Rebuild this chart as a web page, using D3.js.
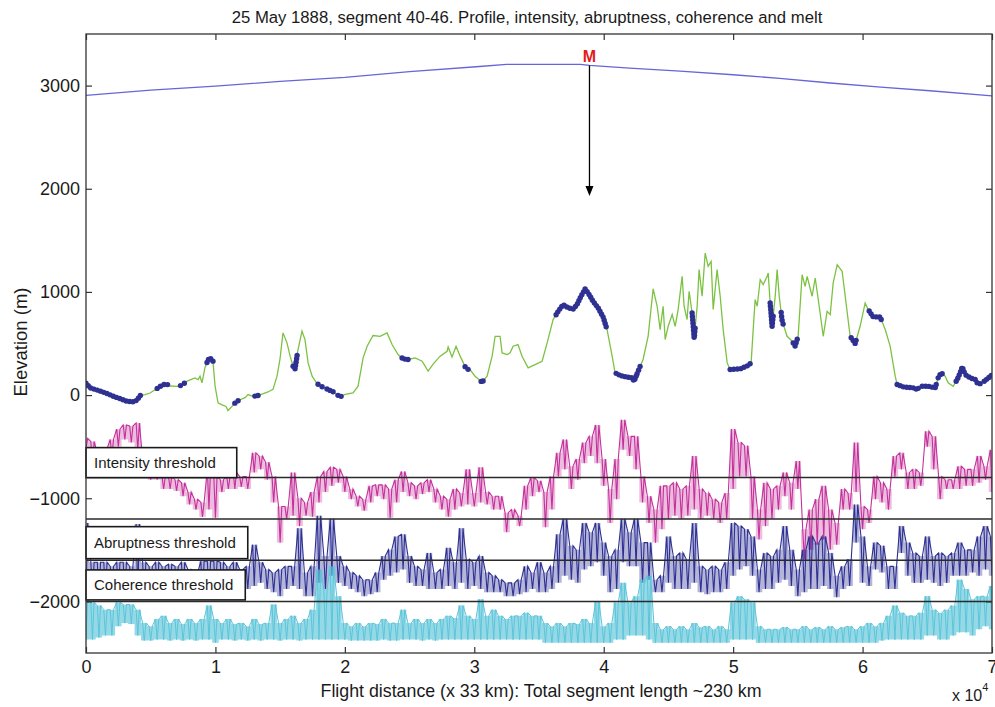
<!DOCTYPE html>
<html>
<head>
<meta charset="utf-8">
<script src="https://cdn.jsdelivr.net/npm/d3@7"></script>
<style>
  body { margin: 0; background: #fff; }
  svg { display: block; }
  text { font-family: "Liberation Sans", Arial, Helvetica, sans-serif; fill: #1a1a1a; }
</style>
</head>
<body>
<svg id="chart" width="995" height="707"></svg>
<script>
// ---------------- data ----------------
// Flight distance in metres (axis shows units of 10^4), elevation in metres.

// Ice surface profile
const profileX = [0, 5000, 10000, 15000, 20000, 25000, 30400, 32500, 38200, 38900, 42000, 45900, 50000, 53600, 57500, 61400, 65200, 70000];
const profileZ = [2905, 2955, 2995, 3040, 3080, 3135, 3185, 3205, 3205, 3195, 3170, 3140, 3105, 3070, 3025, 2985, 2950, 2900];

// Bed profile
const bedX = [0, 310, 700, 1080, 1620, 2090, 2630, 3170, 3630, 3940, 4170, 4560, 4950, 5490, 5870, 6180, 6490, 7110, 7420, 7810,
  8420, 8660, 8810, 8960, 9200, 9430, 9580, 9810, 9970, 10200, 10510, 10820, 10970, 11280, 11590, 11900, 12290, 12520, 12830, 13140,
  13600, 14060, 14450, 14760, 14990, 15220, 15530, 15770, 16000, 16150, 16380, 16690, 16920, 17160, 17470, 17850, 18160, 18700, 19090, 19630,
  20020, 20630, 21020, 21410, 21720, 22180, 22720, 23260, 23650, 24110, 24500, 24880, 25430, 25970, 26430, 26820, 27360, 27900, 27980, 28280,
  28590, 28900, 29370, 29680, 30060, 30600, 30990, 31380, 31610, 31990, 32150, 32540, 32770, 33000, 33380, 33690, 34160, 34700, 35240, 35630,
  36090, 36480, 36860, 37250, 37640, 37940, 38180, 38560, 38800, 39180, 39570, 39950, 40260, 40650, 40880, 41270, 41810, 42190, 42350, 42660,
  43040, 43430, 43820, 44130, 44360, 44590, 44750, 44980, 45290, 45520, 45750, 46060, 46210, 46440, 46600, 46830, 46990, 47220, 47370, 47600,
  47840, 48070, 48300, 48460, 48760, 49000, 49230, 49540, 49770, 50540, 51160, 51390, 51550, 51700, 51860, 52090, 52320, 52630, 52710, 52860,
  53010, 53250, 53400, 53560, 53790, 54170, 54560, 54790, 55020, 55330, 55560, 55720, 56100, 56340, 56650, 56960, 57260, 57500, 57730, 58040,
  58420, 58660, 59040, 59430, 59810, 60200, 60430, 60820, 61360, 61750, 62130, 62520, 62670, 63140, 63910, 64220, 64450, 65070, 65610, 65840,
  66070, 66380, 66610, 67000, 67310, 67540, 67700, 67930, 68320, 68700, 68930, 69240, 69630, 69940];
const bedZ = [115, 70, 55, 40, 15, -10, -35, -60, -65, -50, -5, 5, 20, 64, 95, 110, 88, 85, 96, 135,
  167, 150, 183, 119, 270, 340, 361, 329, 90, -75, -95, -110, -150, -110, -65, -45, -25, 5, -10, -10,
  10, 30, 55, 183, 350, 603, 506, 377, 280, 254, 441, 619, 538, 312, 183, 112, 86, 54, 32, -17,
  6, 22, 86, 361, 474, 577, 570, 603, 490, 393, 351, 345, 361, 329, 232, 300, 377, 425, 467, 370,
  474, 380, 254, 245, 183, 125, 183, 377, 570, 570, 409, 393, 409, 474, 490, 377, 264, 296, 328, 506,
  732, 812, 877, 845, 835, 877, 942, 1029, 990, 909, 845, 758, 635, 377, 216, 190, 174, 167, 135, 232,
  345, 570, 1029, 861, 635, 861, 538, 667, 780, 667, 829, 1151, 861, 732, 1006, 796, 554, 861, 1216, 958,
  1377, 1248, 1296, 829, 1216, 958, 635, 312, 248, 254, 287, 312, 635, 925, 861, 1119, 1071, 1151, 1184, 893,
  667, 958, 1216, 958, 716, 570, 522, 474, 570, 1167, 1054, 1151, 958, 1135, 861, 570, 812, 780, 1087, 1264,
  1200, 958, 570, 500, 667, 893, 829, 758, 758, 635, 474, 183, 103, 80, 70, 54, 86, 86, 70, 167,
  216, 183, 119, 86, 151, 216, 274, 199, 167, 151, 103, 119, 157, 190];

// Stretches of the bed flagged as melt [start, end] in metres
const meltStart = [0, 5500, 7300, 9350, 11500, 13050, 16000, 17930, 18620, 19470, 24420, 29290, 30530, 36320, 40960, 42580, 46830, 49770, 52860, 53710,
  54640, 59120, 60510, 62670, 64140, 64610, 65840, 67230, 68000, 68850, 69400];
const meltEnd = [4200, 6300, 7600, 9810, 11750, 13290, 16310, 18240, 19090, 19710, 24880, 29520, 30680, 40190, 42500, 42810, 47060, 51310, 53090, 53860,
  54950, 59500, 61440, 63910, 64300, 65690, 66150, 67850, 68700, 69080, 69940];

// Radar indicators, sampled every 500 m: lower / upper extent of the trace within each sample
const sampleStep = 500;
const intensityHi = [-420, -450, -560, -520, -430, -330, -290, -300, -270, -620,
  -720, -690, -790, -790, -820, -850, -940, -1010, -1040, -720,
  -790, -820, -790, -750, -790, -790, -560, -590, -650, -790,
  -1080, -1080, -750, -1000, -1040, -940, -790, -740, -700, -720,
  -790, -910, -980, -1010, -880, -870, -870, -910, -820, -740,
  -850, -880, -850, -820, -910, -980, -1010, -910, -950, -720,
  -950, -700, -940, -980, -980, -1140, -1110, -1170, -880, -800,
  -830, -940, -790, -560, -430, -690, -620, -460, -400, -290,
  -620, -910, -620, -240, -400, -400, -790, -980, -1110, -880,
  -880, -850, -910, -880, -590, -910, -950, -1010, -1040, -950,
  -330, -460, -490, -790, -1110, -850, -910, -880, -750, -850,
  -640, -1300, -1110, -1010, -880, -1110, -1240, -910, -950, -460,
  -1080, -1110, -790, -850, -910, -590, -560, -750, -720, -750,
  -350, -400, -790, -820, -820, -690, -720, -720, -590, -690,
  -530];
const intensityLo = [-520, -720, -720, -690, -600, -500, -430, -460, -530, -790,
  -820, -820, -910, -910, -930, -980, -1060, -1110, -1180, -1110,
  -1190, -940, -910, -910, -890, -910, -750, -720, -820, -1040,
  -1430, -1200, -1170, -1270, -1170, -1180, -1040, -940, -880, -850,
  -940, -1010, -1080, -1120, -1040, -980, -1010, -1190, -1040, -940,
  -980, -1010, -960, -940, -1040, -1110, -1180, -1110, -1080, -1060,
  -1080, -1040, -1060, -1110, -1110, -1330, -1200, -1270, -1110, -980,
  -940, -1280, -1110, -790, -720, -910, -820, -660, -590, -660,
  -880, -1240, -1010, -530, -590, -720, -1040, -1240, -1430, -1300,
  -1200, -1170, -1200, -1170, -1110, -1200, -1170, -1200, -1240, -1200,
  -910, -790, -790, -1200, -1400, -1270, -1200, -1110, -980, -1110,
  -910, -1590, -1500, -1450, -1400, -1500, -1450, -1110, -1110, -940,
  -1300, -1240, -1010, -1040, -1110, -790, -720, -910, -910, -880,
  -500, -720, -1010, -910, -910, -910, -880, -880, -850, -820,
  -940];

const abruptHi = [-1240, -1620, -1620, -1620, -1660, -1620, -1620, -1660, -1250, -1620,
  -1660, -1620, -1660, -1640, -1660, -1620, -1690, -1720, -1610, -1610,
  -1610, -1620, -1660, -1620, -1690, -1660, -1450, -1620, -1690, -1720,
  -1690, -1660, -1660, -1290, -1720, -1660, -1170, -1560, -1200, -1560,
  -1660, -1720, -1750, -1790, -1790, -1720, -1560, -1500, -1370, -1350,
  -1560, -1660, -1690, -1530, -1720, -1690, -1480, -1620, -1290, -1590,
  -1620, -1560, -1720, -1750, -1790, -1820, -1820, -1790, -1660, -1720,
  -1620, -1720, -1660, -1350, -1200, -1460, -1500, -1240, -1330, -1240,
  -1430, -1560, -1500, -1200, -1330, -1200, -1430, -1430, -1790, -1750,
  -1370, -1560, -1530, -1590, -1240, -1660, -1690, -1660, -1690, -1620,
  -1240, -1270, -1300, -1370, -1690, -1530, -1560, -1500, -1270, -1500,
  -1690, -1500, -1370, -1430, -1370, -1530, -1750, -1660, -1590, -1060,
  -1370, -1660, -1430, -1460, -1660, -1660, -1270, -1430, -1530, -1560,
  -1370, -1560, -1530, -1560, -1530, -1430, -1500, -1500, -1370, -1270,
  -1370];
const abruptLo = [-1950, -1950, -1980, -1950, -1980, -1950, -1950, -1950, -1950, -1950,
  -1950, -1950, -1980, -1950, -1950, -1950, -1960, -1980, -1950, -1950,
  -1960, -1950, -1950, -1950, -1950, -1880, -1850, -1820, -1880, -1910,
  -1950, -1880, -1850, -1880, -1950, -1950, -1820, -1880, -1750, -1820,
  -1850, -1880, -1910, -1950, -1930, -1910, -1790, -1750, -1720, -1690,
  -1820, -1850, -1850, -1880, -1880, -1880, -1850, -1880, -1820, -1880,
  -1850, -1880, -1910, -1910, -1910, -1950, -1950, -1930, -1910, -1880,
  -1910, -1910, -1880, -1820, -1750, -1790, -1820, -1690, -1660, -1620,
  -1750, -1910, -1880, -1620, -1660, -1660, -1820, -1790, -1910, -1910,
  -1820, -1880, -1880, -1880, -1820, -1910, -1930, -1910, -1910, -1880,
  -1750, -1690, -1660, -1750, -1910, -1880, -1880, -1820, -1790, -1850,
  -1950, -1910, -1880, -1880, -1850, -1880, -1960, -1880, -1850, -1430,
  -1820, -1850, -1690, -1720, -1880, -1880, -1530, -1750, -1820, -1820,
  -1790, -1820, -1850, -1820, -1750, -1750, -1750, -1720, -1750, -1690,
  -1750];

const coherHi = [-1980, -2010, -2040, -2080, -2080, -2010, -2030, -2030, -2080, -2210,
  -2240, -2170, -2140, -2210, -2170, -2220, -2170, -2210, -2170, -2040,
  -2170, -2210, -2170, -2220, -2210, -2240, -2170, -2220, -2210, -2030,
  -2210, -2170, -2140, -2210, -2170, -2080, -1690, -1880, -1660, -1950,
  -2210, -2240, -2210, -2240, -2210, -2220, -2170, -2210, -2210, -2080,
  -2210, -2170, -2210, -2170, -2210, -2170, -2140, -2160, -2040, -2140,
  -2170, -1980, -2140, -2080, -2140, -2170, -2140, -2140, -2110, -2140,
  -2140, -2210, -2240, -2210, -2240, -2210, -2220, -2170, -2210, -2000,
  -2240, -2210, -2010, -1820, -2010, -1950, -1790, -1750, -2210, -2270,
  -2240, -2270, -2240, -2270, -2210, -2250, -2240, -2270, -2240, -2270,
  -2010, -1950, -1980, -2010, -2240, -2270, -2270, -2270, -2250, -2270,
  -2270, -2240, -2270, -2250, -2270, -2240, -2270, -2250, -2240, -2270,
  -2240, -2210, -2240, -2210, -2140, -2040, -2110, -2140, -2140, -2110,
  -1950, -2080, -2110, -2080, -2040, -1790, -1880, -1980, -1950, -1950,
  -1850];
const coherLo = [-2370, -2370, -2350, -2330, -2330, -2240, -2210, -2220, -2330, -2380,
  -2380, -2370, -2370, -2380, -2370, -2380, -2370, -2380, -2370, -2370,
  -2400, -2370, -2370, -2380, -2370, -2380, -2370, -2380, -2370, -2370,
  -2380, -2370, -2370, -2380, -2370, -2370, -2370, -2370, -2370, -2370,
  -2370, -2380, -2380, -2380, -2380, -2380, -2370, -2380, -2380, -2370,
  -2370, -2370, -2380, -2370, -2380, -2370, -2370, -2370, -2370, -2370,
  -2370, -2370, -2370, -2370, -2370, -2370, -2370, -2370, -2370, -2370,
  -2370, -2400, -2400, -2400, -2400, -2400, -2400, -2400, -2400, -2400,
  -2400, -2400, -2370, -2370, -2330, -2330, -2330, -2370, -2400, -2400,
  -2400, -2400, -2400, -2400, -2400, -2400, -2400, -2400, -2400, -2400,
  -2370, -2370, -2370, -2370, -2400, -2400, -2400, -2400, -2400, -2400,
  -2400, -2400, -2400, -2400, -2400, -2400, -2400, -2400, -2400, -2400,
  -2400, -2400, -2400, -2380, -2370, -2370, -2370, -2370, -2370, -2370,
  -2330, -2330, -2370, -2370, -2330, -2300, -2300, -2330, -2270, -2240,
  -2270];

// Threshold levels and their labels
const thresholdLevels = [-800, -1200, -1600, -2000];
const thresholdLabels = ["Intensity threshold", "", "Abruptness threshold", "Coherence threshold"];

// Axis ticks
const xTicks = [0, 10000, 20000, 30000, 40000, 50000, 60000, 70000];
const yTicks = [-2000, -1000, 0, 1000, 2000, 3000];

// Melt marker
const markerX = 38900;
const markerArrowEnd = 1930;
const markerLabel = "M";

const titleText = "25 May 1888, segment 40-46. Profile, intensity, abruptness, coherence and melt";
const xLabelText = "Flight distance (x 33 km): Total segment length ~230 km";
const yLabelText = "Elevation (m)";

// ---------------- drawing ----------------
const svg = d3.select("#chart");
const L = 86, R = 992, T = 34, B = 653;

const x = d3.scaleLinear().domain([0, 70000]).range([L, R]);
const y = d3.scaleLinear().domain([-2500, 3500]).range([B, T]);

svg.append("rect").attr("width", 995).attr("height", 707).attr("fill", "#fff");

svg.append("defs").append("clipPath").attr("id", "plot")
  .append("rect").attr("x", L).attr("y", T).attr("width", R - L).attr("height", B - T);

const plot = svg.append("g").attr("clip-path", "url(#plot)");

// noisy indicator traces: light shading of each sample's extent plus a trace
// that drops to the sample's low and climbs to its high
function drawTrace(lo, hi, color, fillOpacity, strokeWidth) {
  const rows = lo.map((v, i) => ({ d: i * sampleStep, lo: v, hi: hi[i] }));
  plot.append("path")
    .datum(rows)
    .attr("fill", color)
    .attr("fill-opacity", fillOpacity)
    .attr("d", d3.area().x(r => x(r.d)).y0(r => y(r.lo)).y1(r => y(r.hi)).curve(d3.curveStep));
  const pts = [];
  rows.forEach(r => {
    pts.push([r.d - sampleStep / 4, r.hi], [r.d, r.lo], [r.d + sampleStep / 4, r.hi]);
  });
  plot.append("path")
    .datum(pts)
    .attr("fill", "none")
    .attr("stroke", color)
    .attr("stroke-width", strokeWidth)
    .attr("stroke-linejoin", "miter")
    .attr("d", d3.line().x(p => x(p[0])).y(p => y(p[1])));
}

drawTrace(intensityLo, intensityHi, "#c4319b", 0.32, 1.1);
drawTrace(abruptLo, abruptHi, "#2e3192", 0.36, 1.1);
drawTrace(coherLo, coherHi, "#5cc5da", 0.65, 1);

// threshold lines
plot.selectAll("line.threshold")
  .data(thresholdLevels)
  .join("line")
  .attr("class", "threshold")
  .attr("x1", L).attr("x2", R)
  .attr("y1", d => y(d)).attr("y2", d => y(d))
  .attr("stroke", "#2a2a2a")
  .attr("stroke-width", 1.5);

// ice surface profile
plot.append("path")
  .datum(profileX.map((d, i) => [d, profileZ[i]]))
  .attr("fill", "none")
  .attr("stroke", "#6666d8")
  .attr("stroke-width", 1.3)
  .attr("d", d3.line().x(p => x(p[0])).y(p => y(p[1])));

// bed profile
const bedPts = bedX.map((d, i) => [d, bedZ[i]]);
const bedLine = d3.line().x(p => x(p[0])).y(p => y(p[1]));
plot.append("path")
  .datum(bedPts)
  .attr("fill", "none")
  .attr("stroke", "#7cc242")
  .attr("stroke-width", 1.3)
  .attr("d", bedLine);

// melt markers, spaced evenly along each flagged stretch of the bed
const bedAt = d => {
  const i = Math.max(1, d3.bisectLeft(bedX, d));
  if (i >= bedX.length) return bedZ[bedZ.length - 1];
  const t = (d - bedX[i - 1]) / (bedX[i] - bedX[i - 1]);
  return bedZ[i - 1] + t * (bedZ[i] - bedZ[i - 1]);
};
const meltDots = [];
const probe = svg.append("path").attr("fill", "none").attr("stroke", "none");
meltStart.forEach((s, k) => {
  const e = meltEnd[k];
  const seg = [[s, bedAt(s)]].concat(bedPts.filter(p => p[0] > s && p[0] < e)).concat([[e, bedAt(e)]]);
  probe.attr("d", bedLine(seg));
  const len = probe.node().getTotalLength();
  const n = Math.max(1, Math.round(len / 3.4));
  for (let j = 0; j <= n; j++) {
    const p = probe.node().getPointAtLength(len * j / n);
    meltDots.push([p.x, p.y]);
  }
});
probe.remove();
plot.selectAll("circle.melt")
  .data(meltDots)
  .join("circle")
  .attr("class", "melt")
  .attr("cx", p => p[0]).attr("cy", p => p[1])
  .attr("r", 2.7)
  .attr("fill", "#2e3192");

// threshold labels in boxed text
const boxPad = [29, 0, 20, 20];
thresholdLevels.forEach((lev, i) => {
  const label = thresholdLabels[i];
  if (!label) return;
  const g = svg.append("g");
  const bottom = y(lev) - (i === 0 ? 0 : 1.5);
  const h = i === 2 ? 32 : 30;
  const rect = g.append("rect");
  const t = g.append("text")
    .attr("x", L + 8)
    .attr("y", bottom - h / 2 + 5)
    .attr("font-size", 15)
    .text(label);
  const w = t.node().getComputedTextLength();
  rect.attr("x", L).attr("y", bottom - h)
    .attr("width", w + boxPad[i]).attr("height", h)
    .attr("fill", "#fff")
    .attr("stroke", "#1a1a1a")
    .attr("stroke-width", 1.6);
});

// melt location marker
const mTop = profileZ[profileX.indexOf(markerX)];
svg.append("line")
  .attr("x1", x(markerX)).attr("x2", x(markerX))
  .attr("y1", y(mTop)).attr("y2", y(markerArrowEnd) - 8)
  .attr("stroke", "#000").attr("stroke-width", 1.3);
svg.append("path")
  .attr("d", `M${x(markerX)},${y(markerArrowEnd)} l-4,-10 l8,0 z`)
  .attr("fill", "#000");
svg.append("text")
  .attr("x", x(markerX)).attr("y", y(mTop) - 3)
  .attr("text-anchor", "middle")
  .attr("font-size", 16)
  .attr("font-weight", "bold")
  .style("fill", "#e31b1b")
  .text(markerLabel);

// axes: ticks pointing inward on all four sides
const axisStyle = g => {
  g.select(".domain").remove();
  g.selectAll(".tick line").attr("stroke", "#333").attr("stroke-width", 1.2);
  g.selectAll(".tick text").attr("font-size", 18).style("fill", "#1a1a1a")
    .attr("font-family", '"Liberation Sans", Arial, sans-serif');
};
svg.append("g").attr("transform", `translate(${L},0)`)
  .call(d3.axisLeft(y).tickValues(yTicks).tickSize(-6).tickPadding(6).tickFormat(d3.format("d")))
  .call(axisStyle);
svg.append("g").attr("transform", `translate(${R},0)`)
  .call(d3.axisRight(y).tickValues(yTicks).tickSize(-6).tickFormat(""))
  .call(axisStyle);
svg.append("g").attr("transform", `translate(0,${B})`)
  .call(d3.axisBottom(x).tickValues(xTicks).tickSize(-6).tickPadding(7).tickFormat(d => d / 10000))
  .call(axisStyle);
svg.append("g").attr("transform", `translate(0,${T})`)
  .call(d3.axisTop(x).tickValues(xTicks).tickSize(-6).tickFormat(""))
  .call(axisStyle);

svg.append("rect")
  .attr("x", L).attr("y", T).attr("width", R - L).attr("height", B - T)
  .attr("fill", "none").attr("stroke", "#333").attr("stroke-width", 1.3);

// titles
svg.append("text")
  .attr("x", 527).attr("y", 23)
  .attr("text-anchor", "middle")
  .attr("font-size", 16.7)
  .text(titleText);
svg.append("text")
  .attr("x", 541).attr("y", 697)
  .attr("text-anchor", "middle")
  .attr("font-size", 17.8)
  .text(xLabelText);
svg.append("text")
  .attr("transform", "translate(27,342) rotate(-90)")
  .attr("text-anchor", "middle")
  .attr("font-size", 18.5)
  .text(yLabelText);
const ex = svg.append("text").attr("x", 952).attr("y", 701).attr("font-size", 16);
ex.append("tspan").text("x 10");
ex.append("tspan").attr("dy", -10).attr("font-size", 11).text("4");
</script>
</body>
</html>
